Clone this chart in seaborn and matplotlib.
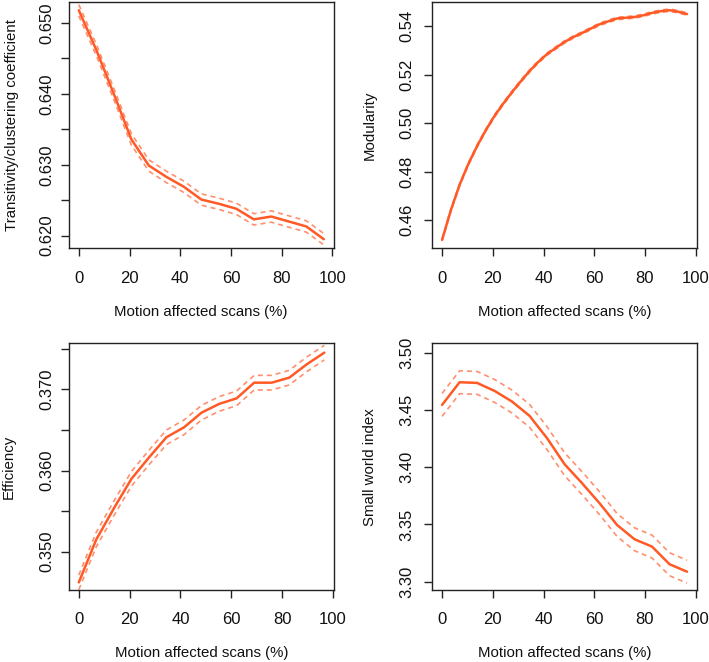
import numpy as np
import pandas as pd
import matplotlib
matplotlib.use("Agg")
import matplotlib.pyplot as plt
import seaborn as sns

sns.set_style("ticks")
plt.rcParams['font.family'] = ['Liberation Sans', 'DejaVu Sans']

# ---- data ----
x15 = [0, 6.9, 13.8, 20.7, 27.6, 34.5, 41.4, 48.3, 55.2, 62.1, 69.0, 75.9, 82.8, 89.7, 96.6]
x29 = [0, 3.45, 6.9, 10.3, 13.8, 17.2, 20.7, 24.1, 27.6, 31.0, 34.5, 37.9, 41.4, 44.8,
       48.3, 51.7, 55.2, 58.6, 62.1, 65.5, 69.0, 72.4, 75.9, 79.3, 82.8, 86.2, 89.7, 93.1, 96.6]

transitivity = [0.6518, 0.6462, 0.6400, 0.6336, 0.6299, 0.6283, 0.6269, 0.6251,
                0.6245, 0.6238, 0.6223, 0.6227, 0.6220, 0.6213, 0.6195]
transitivity_ci = 0.0008

modularity = [0.4518, 0.4640, 0.4745, 0.4830, 0.4905, 0.4970, 0.5030, 0.5080, 0.5128,
              0.5172, 0.5215, 0.5252, 0.5285, 0.5310, 0.5335, 0.5355, 0.5372, 0.5390,
              0.5408, 0.5420, 0.5432, 0.5435, 0.5438, 0.5445, 0.5455, 0.5462, 0.5466,
              0.5460, 0.5450]
modularity_ci = 0.0005

efficiency = [0.34622, 0.35152, 0.35534, 0.35897, 0.36160, 0.36410, 0.36532, 0.36713,
              0.36820, 0.36889, 0.37082, 0.37082, 0.37144, 0.37308, 0.37452]
efficiency_ci = 0.0009

smallworld = [3.4544, 3.4742, 3.4736, 3.4666, 3.4573, 3.4448, 3.4253, 3.4026,
              3.3860, 3.3685, 3.3495, 3.3370, 3.3306, 3.3152, 3.3087]
smallworld_ci = 0.010

xlabel = "Motion affected scans (%)"
ylabels = ["Transitivity/clustering coefficient", "Modularity", "Efficiency", "Small world index"]
yticks = [[0.620, 0.630, 0.640, 0.650], [0.46, 0.48, 0.50, 0.52, 0.54],
          [0.350, 0.360, 0.370], [3.30, 3.35, 3.40, 3.45, 3.50]]
yticks_minor = [[0.625, 0.635, 0.645], [], [0.355, 0.365, 0.375], []]
yfmt = ["{:.3f}", "{:.2f}", "{:.3f}", "{:.2f}"]
ylims = [(0.61822, 0.65296), (0.4483, 0.5500), (0.34528, 0.37567), (3.2927, 3.5082)]

W, H = 709, 662
fig = plt.figure(figsize=(W / 100, H / 100), dpi=100)

# axes boxes in pixels: left, right, top, bottom
boxes = [(69, 333.5, 2, 248.3), (432.3, 696.7, 2, 248.3),
         (69, 334, 343.3, 590), (432.3, 696.7, 343.3, 590)]
series = [(x15, transitivity, transitivity_ci), (x29, modularity, modularity_ci),
          (x15, efficiency, efficiency_ci), (x15, smallworld, smallworld_ci)]
ylabel_x = [12, 370, 9, 370]
ytick_pad = [4.5, 7, 4.5, 7]

main_col = "#FF5A26"
ci_col = "#FF8F6E"
frame_col = "#222222"
fs = 12.0
lfs = 10.8

for i in range(4):
    l, r, t, b = boxes[i]
    ax = fig.add_axes([l / W, 1 - b / H, (r - l) / W, (b - t) / H])
    xs, ys, ci = series[i]
    df = pd.DataFrame({"x": xs, "y": ys})
    df["lo"] = df["y"] - ci
    df["hi"] = df["y"] + ci
    sns.lineplot(data=df, x="x", y="lo", ax=ax, color=ci_col, lw=1.2, dashes=False)
    sns.lineplot(data=df, x="x", y="hi", ax=ax, color=ci_col, lw=1.2, dashes=False)
    for ln in ax.lines:
        ln.set_dashes([3.0, 2.4])
    sns.lineplot(data=df, x="x", y="y", ax=ax, color=main_col, lw=1.8)

    ax.set_xlim(-3.86, 100.41)
    ax.set_ylim(*ylims[i])
    ax.set_xticks([0, 20, 40, 60, 80, 100])
    ax.set_xticklabels(["0", "20", "40", "60", "80", "100"], fontsize=fs)
    ax.set_yticks(yticks[i] + yticks_minor[i])
    ax.set_yticklabels([yfmt[i].format(v) for v in yticks[i]] + [""] * len(yticks_minor[i]),
                       fontsize=fs, rotation=90, va="center")
    ax.tick_params(axis="both", direction="out", length=6, width=1.0, color=frame_col,
                   labelcolor="#111111")
    ax.tick_params(axis="x", pad=10)
    ax.tick_params(axis="y", pad=ytick_pad[i])
    for s in ax.spines.values():
        s.set_color(frame_col)
        s.set_linewidth(1.0)
    ax.set_xlabel(xlabel, fontsize=lfs, color="#111111")
    ax.xaxis.set_label_coords(0.5 * (l + r) / W, 1 - (311.7 if i < 2 else 653) / H,
                              transform=fig.transFigure)
    ax.set_ylabel(ylabels[i], fontsize=lfs, color="#111111")
    ax.yaxis.set_label_coords(ylabel_x[i] / W, 1 - 0.5 * (t + b) / H, transform=fig.transFigure)
    ax.xaxis.label.set_va("center")
    ax.yaxis.label.set_va("center")
    ax.grid(False)

fig.savefig("out.png", dpi=100, facecolor="white")
